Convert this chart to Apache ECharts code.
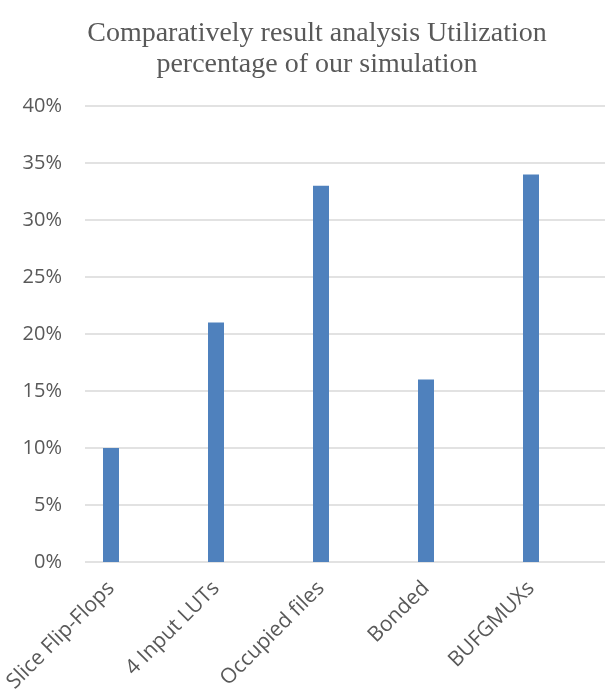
<!DOCTYPE html>
<html>
<head>
<meta charset="utf-8">
<script src="https://cdn.jsdelivr.net/npm/echarts@6/dist/echarts.min.js"></script>
<style>
html,body{margin:0;padding:0;background:#fff;}
#chart{width:605px;height:692px;}
</style>
</head>
<body>
<div id="chart"></div>
<script>
const titleText = 'Comparatively result analysis Utilization\npercentage of our simulation';
const categories = ['Slice Flip-Flops', '4 Input LUTs', 'Occupied files', 'Bonded', 'BUFGMUXs'];
const utilization = [10, 21, 33, 16, 34];
const yMin = 0, yMax = 40, yStep = 5;

const chart = echarts.init(document.getElementById('chart'), null, {renderer: 'canvas'});
const labelColor = '#595959';
chart.setOption({
  animation: false,
  backgroundColor: '#ffffff',
  title: {
    text: titleText,
    left: 312,
    textAlign: 'center',
    top: 13,
    textStyle: {
      fontFamily: 'Liberation Serif',
      fontSize: 28,
      lineHeight: 31,
      fontWeight: 'normal',
      color: labelColor
    }
  },
  grid: [
    {left: 85, right: 0, top: 106, bottom: 130, containLabel: false, outerBoundsMode: 'none'},
    {left: 58.5, right: 21.5, top: 106, bottom: 130, containLabel: false, outerBoundsMode: 'none'}
  ],
  xAxis: [
    {
      gridIndex: 0, type: 'category', data: categories,
      show: false
    },
    {
      gridIndex: 1, type: 'category', data: categories,
      axisLine: {show: false}, axisTick: {show: false},
      axisLabel: {
        interval: 0, rotate: 45, margin: 23,
        fontFamily: 'Open Sans', fontSize: 21, color: labelColor
      }
    }
  ],
  yAxis: [
    {
      gridIndex: 0, type: 'value', min: yMin, max: yMax, interval: yStep,
      axisLine: {show: false}, axisTick: {show: false},
      axisLabel: {
        formatter: '{value}%', margin: 23,
        fontFamily: 'Open Sans', fontSize: 20, color: labelColor
      },
      splitLine: {show: true, lineStyle: {color: '#d9d9d9', width: 1.5}}
    },
    {
      gridIndex: 1, type: 'value', min: yMin, max: yMax, interval: yStep,
      show: false, splitLine: {show: false}
    }
  ],
  series: [{
    type: 'bar',
    xAxisIndex: 1, yAxisIndex: 1,
    data: utilization,
    barWidth: 16,
    itemStyle: {color: '#4f81bd'}
  }]
});
</script>
</body>
</html>
